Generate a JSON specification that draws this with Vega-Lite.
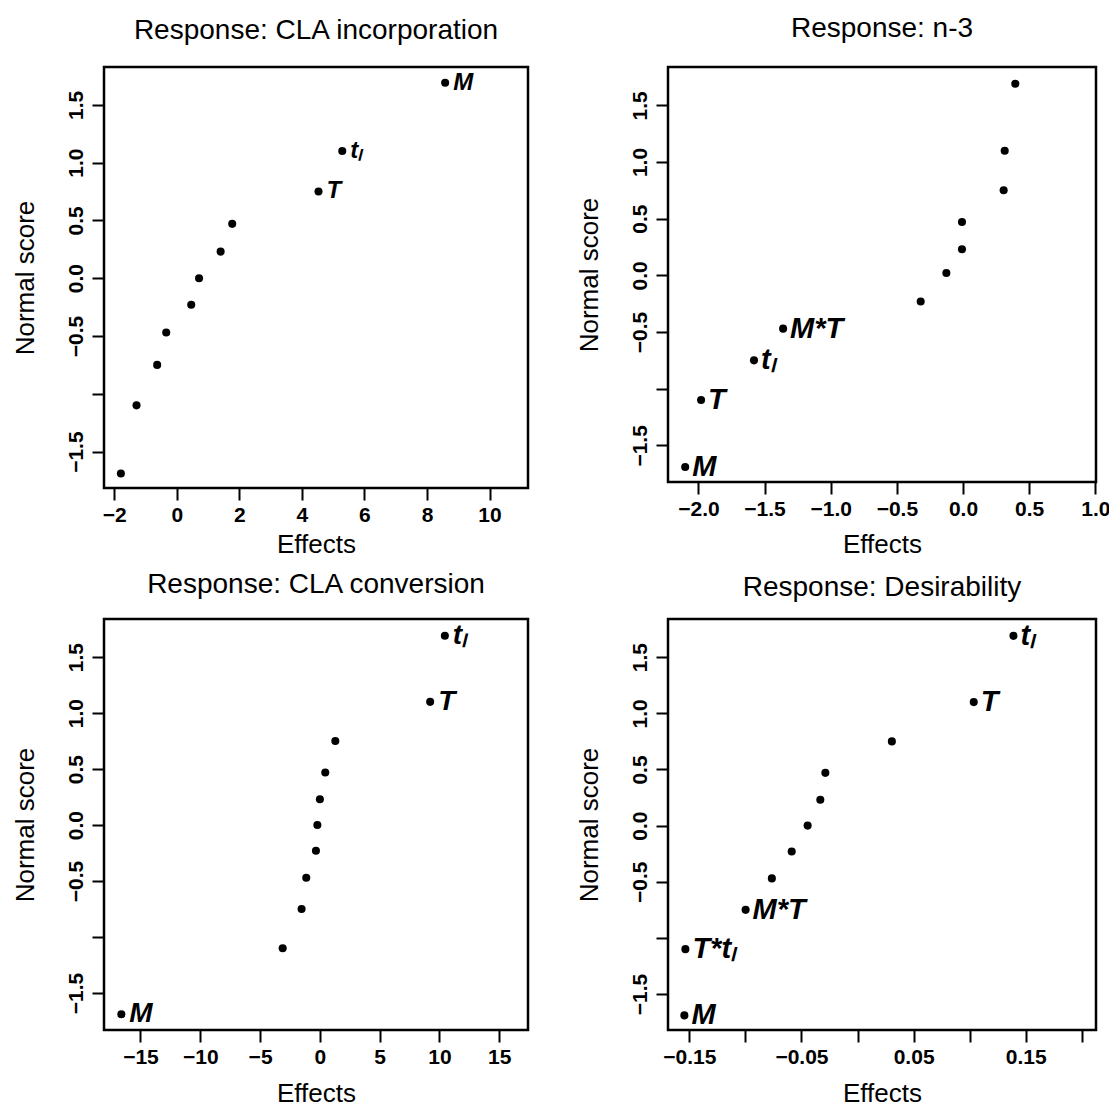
{
  "$schema": "https://vega.github.io/schema/vega-lite/v6.json",
  "background": "white",
  "padding": {"left": 10, "top": 13, "right": 5, "bottom": 5},
  "columns": 2,
  "align": "each",
  "bounds": "flush",
  "spacing": {"row": 131, "column": 140},
  "data": {"values": [
    {"panel": "A", "effect": 8.58, "score": 1.69, "label": "M"},
    {"panel": "A", "effect": 5.29, "score": 1.10, "label": "tₗ"},
    {"panel": "A", "effect": 4.53, "score": 0.75, "label": "T"},
    {"panel": "A", "effect": 1.77, "score": 0.47, "label": ""},
    {"panel": "A", "effect": 1.40, "score": 0.23, "label": ""},
    {"panel": "A", "effect": 0.71, "score": 0.0, "label": ""},
    {"panel": "A", "effect": 0.46, "score": -0.23, "label": ""},
    {"panel": "A", "effect": -0.34, "score": -0.47, "label": ""},
    {"panel": "A", "effect": -0.63, "score": -0.75, "label": ""},
    {"panel": "A", "effect": -1.29, "score": -1.10, "label": ""},
    {"panel": "A", "effect": -1.79, "score": -1.69, "label": ""},
    {"panel": "B", "effect": 0.395, "score": 1.69, "label": ""},
    {"panel": "B", "effect": 0.315, "score": 1.10, "label": ""},
    {"panel": "B", "effect": 0.307, "score": 0.75, "label": ""},
    {"panel": "B", "effect": -0.008, "score": 0.47, "label": ""},
    {"panel": "B", "effect": -0.008, "score": 0.23, "label": ""},
    {"panel": "B", "effect": -0.126, "score": 0.02, "label": ""},
    {"panel": "B", "effect": -0.32, "score": -0.23, "label": ""},
    {"panel": "B", "effect": -1.36, "score": -0.47, "label": "M*T"},
    {"panel": "B", "effect": -1.58, "score": -0.75, "label": "tₗ"},
    {"panel": "B", "effect": -1.98, "score": -1.10, "label": "T"},
    {"panel": "B", "effect": -2.10, "score": -1.69, "label": "M"},
    {"panel": "C", "effect": 10.45, "score": 1.69, "label": "tₗ"},
    {"panel": "C", "effect": 9.22, "score": 1.10, "label": "T"},
    {"panel": "C", "effect": 1.29, "score": 0.75, "label": ""},
    {"panel": "C", "effect": 0.45, "score": 0.47, "label": ""},
    {"panel": "C", "effect": 0.0, "score": 0.23, "label": ""},
    {"panel": "C", "effect": -0.21, "score": 0.0, "label": ""},
    {"panel": "C", "effect": -0.33, "score": -0.23, "label": ""},
    {"panel": "C", "effect": -1.14, "score": -0.47, "label": ""},
    {"panel": "C", "effect": -1.53, "score": -0.75, "label": ""},
    {"panel": "C", "effect": -3.11, "score": -1.10, "label": ""},
    {"panel": "C", "effect": -16.6, "score": -1.69, "label": "M"},
    {"panel": "D", "effect": 0.139, "score": 1.69, "label": "tₗ"},
    {"panel": "D", "effect": 0.1036, "score": 1.10, "label": "T"},
    {"panel": "D", "effect": 0.0306, "score": 0.75, "label": ""},
    {"panel": "D", "effect": -0.0287, "score": 0.47, "label": ""},
    {"panel": "D", "effect": -0.0332, "score": 0.23, "label": ""},
    {"panel": "D", "effect": -0.0445, "score": 0.0, "label": ""},
    {"panel": "D", "effect": -0.0587, "score": -0.23, "label": ""},
    {"panel": "D", "effect": -0.0764, "score": -0.47, "label": ""},
    {"panel": "D", "effect": -0.0998, "score": -0.75, "label": "M*T"},
    {"panel": "D", "effect": -0.1535, "score": -1.10, "label": "T*tₗ"},
    {"panel": "D", "effect": -0.1544, "score": -1.69, "label": "M"}
  ]},
  "config": {
    "font": "Liberation Sans",
    "view": {"stroke": "black", "strokeWidth": 2.5},
    "title": {"fontSize": 28, "fontWeight": "normal", "color": "black", "anchor": "middle", "frame": "group", "offset": 22},
    "axis": {
      "domain": false, "grid": false,
      "ticks": true, "tickColor": "black", "tickWidth": 2, "tickSize": 12,
      "labelFontSize": 21, "labelFontWeight": "bold", "labelColor": "black", "labelFlush": false, "labelOverlap": false, "labelBound": false,
      "titleFontSize": 26, "titleFontWeight": "normal", "titleColor": "black"
    },
    "axisX": {"labelPadding": 4},
    "axisY": {"labelAngle": -90, "labelAlign": "center", "labelBaseline": "bottom", "labelPadding": 6, "titlePadding": 27}
  },
  "concat": [
    {
      "title": "Response: CLA incorporation",
      "width": 424, "height": 421,
      "transform": [{"filter": "datum.panel == 'A'"}],
      "encoding": {
        "x": {"field": "effect", "type": "quantitative", "scale": {"domain": [-2.33, 11.23], "nice": false, "zero": false},
              "axis": {"title": "Effects", "values": [-2, 0, 2, 4, 6, 8, 10], "format": "d", "titlePadding": 6}},
        "y": {"field": "score", "type": "quantitative", "scale": {"domain": [-1.815, 1.827], "nice": false, "zero": false},
              "axis": {"title": "Normal score", "values": [-1.5, -1, -0.5, 0, 0.5, 1, 1.5], "labelExpr": "datum.value == -1 ? '' : format(datum.value, '.1f')"}}
      },
      "layer": [
        {"mark": {"type": "point", "filled": true, "shape": "circle", "size": 65, "color": "black", "opacity": 1}},
        {"mark": {"type": "text", "align": "left", "baseline": "middle", "dx": 8, "fontSize": 24, "fontWeight": "bold", "fontStyle": "italic", "color": "black"},
         "encoding": {"text": {"field": "label"}}}
      ]
    },
    {
      "title": {"text": "Response: n-3", "offset": 24},
      "width": 428, "height": 415,
      "transform": [{"filter": "datum.panel == 'B'"}],
      "encoding": {
        "x": {"field": "effect", "type": "quantitative", "scale": {"domain": [-2.23, 1.005], "nice": false, "zero": false},
              "axis": {"title": "Effects", "values": [-2, -1.5, -1, -0.5, 0, 0.5, 1], "format": ".1f", "titlePadding": 12}},
        "y": {"field": "score", "type": "quantitative", "scale": {"domain": [-1.823, 1.838], "nice": false, "zero": false},
              "axis": {"title": "Normal score", "values": [-1.5, -1, -0.5, 0, 0.5, 1, 1.5], "labelExpr": "datum.value == -1 ? '' : format(datum.value, '.1f')"}}
      },
      "layer": [
        {"mark": {"type": "point", "filled": true, "shape": "circle", "size": 65, "color": "black", "opacity": 1}},
        {"mark": {"type": "text", "align": "left", "baseline": "middle", "dx": 7, "fontSize": 29, "fontWeight": "bold", "fontStyle": "italic", "color": "black"},
         "encoding": {"text": {"field": "label"}}}
      ]
    },
    {
      "title": {"text": "Response: CLA conversion", "offset": 20},
      "width": 424, "height": 411,
      "transform": [{"filter": "datum.panel == 'C'"}],
      "encoding": {
        "x": {"field": "effect", "type": "quantitative", "scale": {"domain": [-18.05, 17.4], "nice": false, "zero": false},
              "axis": {"title": "Effects", "values": [-15, -10, -5, 0, 5, 10, 15], "format": "d", "titlePadding": 13}},
        "y": {"field": "score", "type": "quantitative", "scale": {"domain": [-1.83, 1.84], "nice": false, "zero": false},
              "axis": {"title": "Normal score", "values": [-1.5, -1, -0.5, 0, 0.5, 1, 1.5], "labelExpr": "datum.value == -1 ? '' : format(datum.value, '.1f')"}}
      },
      "layer": [
        {"mark": {"type": "point", "filled": true, "shape": "circle", "size": 65, "color": "black", "opacity": 1}},
        {"mark": {"type": "text", "align": "left", "baseline": "middle", "dx": 8, "fontSize": 28, "fontWeight": "bold", "fontStyle": "italic", "color": "black"},
         "encoding": {"text": {"field": "label"}}}
      ]
    },
    {
      "title": {"text": "Response: Desirability", "offset": 17},
      "width": 428, "height": 411,
      "transform": [{"filter": "datum.panel == 'D'"}],
      "encoding": {
        "x": {"field": "effect", "type": "quantitative", "scale": {"domain": [-0.169, 0.2126], "nice": false, "zero": false},
              "axis": {"title": "Effects", "values": [-0.15, -0.1, -0.05, 0, 0.05, 0.1, 0.15, 0.2], "labelExpr": "abs(round(datum.value * 100)) % 10 == 5 ? format(datum.value, '.2f') : ''", "titlePadding": 13}},
        "y": {"field": "score", "type": "quantitative", "scale": {"domain": [-1.82, 1.84], "nice": false, "zero": false},
              "axis": {"title": "Normal score", "values": [-1.5, -1, -0.5, 0, 0.5, 1, 1.5], "labelExpr": "datum.value == -1 ? '' : format(datum.value, '.1f')"}}
      },
      "layer": [
        {"mark": {"type": "point", "filled": true, "shape": "circle", "size": 65, "color": "black", "opacity": 1}},
        {"mark": {"type": "text", "align": "left", "baseline": "middle", "dx": 7, "fontSize": 29, "fontWeight": "bold", "fontStyle": "italic", "color": "black"},
         "encoding": {"text": {"field": "label"}}}
      ]
    }
  ]
}
